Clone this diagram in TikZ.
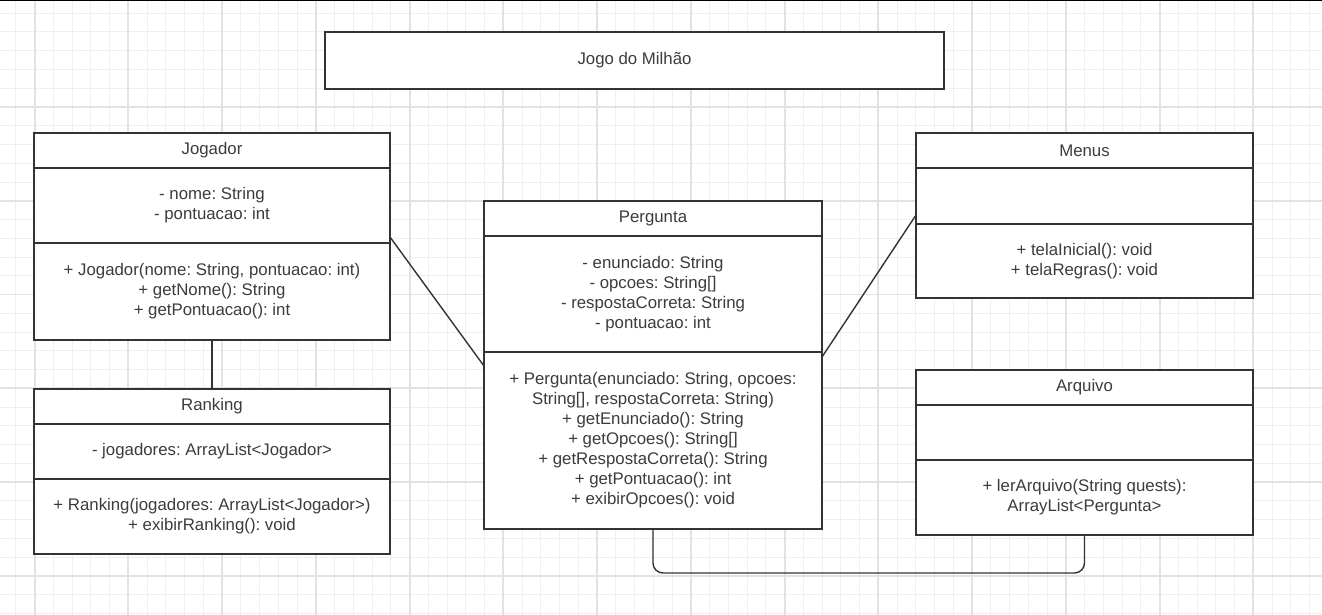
\documentclass[tikz,border=0pt]{standalone}
\usepackage{fontspec}
\setmainfont{Liberation Sans}
\usepackage{tikz}
\usetikzlibrary{positioning,calc}
\frenchspacing

\definecolor{linegray}{HTML}{333333}
\definecolor{textgray}{HTML}{3C3C3C}
\definecolor{gridlight}{HTML}{EFEFEF}
\definecolor{gridmid}{HTML}{E2E2E2}

\tikzset{
    minorline/.style={draw=gridlight, line width=1pt},
    majorline/.style={draw=gridmid, line width=1.8pt},
    umlpart/.style={draw=linegray, line width=1.8pt, fill=white, outer sep=0pt, inner sep=0pt,
        text=textgray, align=center, font=\fontsize{16.8}{20}\selectfont},
    assoc/.style={draw=linegray, line width=1.4pt},
}

\begin{document}
\begin{tikzpicture}[x=1pt, y=-1pt]

        \useasboundingbox (0,0) rectangle (1322,615);
        \fill[white] (0,0) rectangle (1322,615);

        \begin{scope}
            \clip (0,0) rectangle (1322,615);
            \foreach \i in {-1,...,68}
                \draw[minorline] ({34.6+18.75*\i},0) -- ({34.6+18.75*\i},615);
            \foreach \j in {0,...,32}
                \draw[minorline] (0,{13.25+18.75*\j}) -- (1322,{13.25+18.75*\j});
            \foreach \i in {0,...,13}
                \draw[majorline] ({34.6+93.75*\i},0) -- ({34.6+93.75*\i},615);
            \foreach \j in {1,...,6}
                \draw[majorline] (0,{13.25+93.75*\j}) -- (1322,{13.25+93.75*\j});
        \end{scope}
        \draw[black, line width=1.5pt] (0,0.75) -- (1322,0.75);

        \node[umlpart, minimum width=619, minimum height=57] (title) at (634.5,60.5) {Jogo do Milhão};

        \node[umlpart, minimum width=356, minimum height=35] (jogH) at (212,150.5) {Jogador};
        \node[umlpart, minimum width=356, minimum height=75, below=0pt of jogH] (jogA) {- nome: String\\- pontuacao: int};
        \node[umlpart, minimum width=356, minimum height=97, below=0pt of jogA] (jogM) {+ Jogador(nome: String, pontuacao: int)\\+ getNome(): String\\+ getPontuacao(): int};

        \node[umlpart, minimum width=356, minimum height=35] (rnkH) at (212,406.5) {Ranking};
        \node[umlpart, minimum width=356, minimum height=55, below=0pt of rnkH] (rnkA) {- jogadores: ArrayList<Jogador>};
        \node[umlpart, minimum width=356, minimum height=75, below=0pt of rnkA] (rnkM) {+ Ranking(jogadores: ArrayList<Jogador>)\\+ exibirRanking(): void};

        \node[umlpart, minimum width=338, minimum height=35] (perH) at (653,218.5) {Pergunta};
        \node[umlpart, minimum width=338, minimum height=116, below=0pt of perH] (perA) {- enunciado: String\\- opcoes: String[]\\- respostaCorreta: String\\- pontuacao: int};
        \node[umlpart, minimum width=338, minimum height=177, below=0pt of perA] (perM) {+ Pergunta(enunciado: String, opcoes:\\String[], respostaCorreta: String)\\+ getEnunciado(): String\\+ getOpcoes(): String[]\\+ getRespostaCorreta(): String\\+ getPontuacao(): int\\+ exibirOpcoes(): void};

        \node[umlpart, minimum width=337, minimum height=35] (menH) at (1084.5,150.5) {Menus};
        \node[umlpart, minimum width=337, minimum height=56, below=0pt of menH] (menA) {};
        \node[umlpart, minimum width=337, minimum height=74, below=0pt of menA] (menM) {+ telaInicial(): void\\+ telaRegras(): void};

        \node[umlpart, minimum width=337, minimum height=35] (arqH) at (1084.5,387.5) {Arquivo};
        \node[umlpart, minimum width=337, minimum height=55, below=0pt of arqH] (arqA) {};
        \node[umlpart, minimum width=337, minimum height=75, below=0pt of arqA] (arqM) {+ lerArquivo(String quests):\\ArrayList<Pergunta>};

        \draw[assoc] (jogM.south) -- (rnkH.north);
        \draw[assoc] ([yshift=6pt]jogA.south east) -- ([yshift=-14pt]perM.north west);
        \draw[assoc] ([yshift=9pt]menA.south west) -- ([yshift=-5pt]perM.north east);
        \draw[assoc, rounded corners=10pt] (perM.south) -- ++(0,44) -| (arqM.south);

    \end{tikzpicture}
\end{document}
